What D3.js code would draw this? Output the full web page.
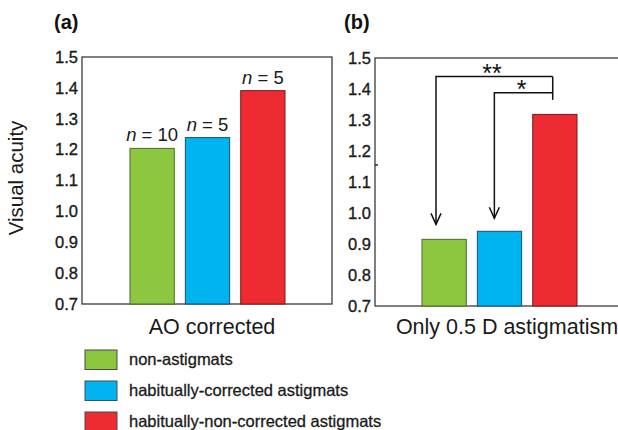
<!DOCTYPE html>
<html>
<head>
<meta charset="utf-8">
<script src="https://cdn.jsdelivr.net/npm/d3@7/dist/d3.min.js"></script>
<style>
  html, body { margin: 0; padding: 0; background: #fff; }
  svg { display: block; font-family: "Liberation Sans", Arial, Helvetica, sans-serif; }
</style>
</head>
<body>
<svg id="chart" width="618" height="430"></svg>
<script>
// Groups, in bar order
const groups = ["non-astigmats", "habitually-corrected astigmats", "habitually-non-corrected astigmats"];
// Visual acuity with adaptive-optics correction
const aoCorrected = [1.204, 1.239, 1.391];
// Visual acuity with only 0.5 D astigmatism left
const halfDioptre = [0.915, 0.941, 1.318];
// Subjects per group
const sampleSizes = [10, 5, 5];
// Y tick values
const yTicks = [0.7, 0.8, 0.9, 1.0, 1.1, 1.2, 1.3, 1.4, 1.5];
// Group colours
const fills = ["#8DC63F", "#00B4EF", "#EE2B31"];
const strokes = ["#4d6b2a", "#1d4f6b", "#7a1a1c"];

const svg = d3.select("#chart");
const ink = "#2a2a2a";
const textInk = "#1a1a1a";

// slightly heavier text strokes
function heavy(sel, w) {
  sel.attr("stroke", textInk).attr("stroke-width", w).attr("paint-order", "stroke");
}

function panel(cfg) {
  const g = svg.append("g");
  const y = d3.scaleLinear().domain([0.7, 1.5]).range([cfg.bottom, cfg.top]);
  const x = d3.scaleBand().domain(groups).range(cfg.barRange).paddingInner(0.2).paddingOuter(0);

  // frame
  g.append("rect")
    .attr("x", cfg.left).attr("y", cfg.top)
    .attr("width", cfg.width).attr("height", cfg.bottom - cfg.top)
    .attr("fill", "none").attr("stroke", ink).attr("stroke-width", 1.2);

  // y axis labels
  const ax = g.append("g")
    .attr("transform", `translate(${cfg.left - cfg.labelGap},0)`)
    .call(d3.axisLeft(y).tickValues(yTicks).tickFormat(d3.format(".1f")).tickSize(0).tickPadding(0));
  ax.select(".domain").remove();
  ax.selectAll("text")
    .attr("font-size", 16.5).attr("fill", textInk)
    .attr("font-family", "'Liberation Sans', Arial, sans-serif")
    .call(heavy, 0.35);

  // bars
  g.selectAll("rect.bar").data(cfg.values).enter().append("rect")
    .attr("class", "bar")
    .attr("x", (d, i) => x(groups[i]))
    .attr("y", d => y(d))
    .attr("width", x.bandwidth())
    .attr("height", d => y(0.7) - y(d))
    .attr("fill", (d, i) => fills[i])
    .attr("stroke", (d, i) => strokes[i])
    .attr("stroke-width", 1);

  // category label
  g.append("text")
    .attr("x", cfg.captionX).attr("y", 334)
    .attr("text-anchor", "middle")
    .attr("font-size", 21.5).attr("fill", textInk)
    .text(cfg.caption);

  // panel letter
  g.append("text")
    .attr("x", cfg.letterX).attr("y", 29)
    .attr("font-size", 20).attr("font-weight", "bold").attr("fill", "#111")
    .text(cfg.letter);

  return { g, x, y };
}

// (a) AO corrected
const a = panel({
  left: 82, width: 250, top: 57, bottom: 304, labelGap: 4,
  barRange: [130, 285], values: aoCorrected,
  caption: "AO corrected", captionX: 212, letter: "(a)", letterX: 54
});

// sample size labels above the bars
a.g.selectAll("text.n").data(aoCorrected).enter().append("text")
  .attr("class", "n")
  .attr("x", (d, i) => a.x(groups[i]) + a.x.bandwidth() / 2)
  .attr("y", d => a.y(d) - 7)
  .attr("text-anchor", "middle")
  .attr("font-size", 18.5).attr("fill", textInk)
  .each(function (d, i) {
    const t = d3.select(this);
    t.append("tspan").attr("font-style", "italic").text("n");
    t.append("tspan").text(" = " + sampleSizes[i]);
  });

// (b) only 0.5 D astigmatism
const b = panel({
  left: 375, width: 250, top: 58, bottom: 306, labelGap: 4,
  barRange: [422, 577], values: halfDioptre,
  caption: "Only 0.5 D astigmatism", captionX: 507, letter: "(b)", letterX: 344
});

// small stray tick on the left frame
b.g.append("line")
  .attr("x1", 375).attr("x2", 378)
  .attr("y1", b.y(1.155)).attr("y2", b.y(1.155))
  .attr("stroke", ink).attr("stroke-width", 1.5);

// significance brackets: red bar vs green (**), red bar vs blue (*)
const redX = b.x(groups[2]) + 20;
const brackets = [
  { from: 0, offset: 14, level: 1.44, tipGap: 15, mark: "**", markX: 492 },
  { from: 1, offset: 17, level: 1.388, tipGap: 13, mark: "*", markX: 521.5 }
];
brackets.forEach(br => {
  const xs = b.x(groups[br.from]) + br.offset;
  const yl = b.y(br.level);
  const tip = b.y(halfDioptre[br.from]) - br.tipGap;
  b.g.append("path")
    .attr("d", `M${redX},${yl}H${xs}V${tip}`)
    .attr("fill", "none").attr("stroke", "#111").attr("stroke-width", 1.5);
  b.g.append("path")
    .attr("d", `M${xs - 5},${tip - 11}L${xs},${tip}L${xs + 5},${tip - 11}`)
    .attr("fill", "none").attr("stroke", "#111").attr("stroke-width", 1.5);
  b.g.append("text")
    .attr("x", br.markX)
    .attr("y", yl + 5)
    .attr("text-anchor", "middle")
    .attr("font-size", 25).attr("fill", "#111")
    .text(br.mark);
});
b.g.append("line")
  .attr("x1", redX).attr("x2", redX)
  .attr("y1", b.y(1.44)).attr("y2", b.y(1.365))
  .attr("stroke", "#111").attr("stroke-width", 1.5);

// y axis title
svg.append("text")
  .attr("transform", "translate(23,178) rotate(-90)")
  .attr("text-anchor", "middle")
  .attr("font-size", 20.5).attr("fill", textInk)
  .text("Visual acuity");

// legend
const legend = svg.append("g");
const rowY = d3.scaleBand().domain(groups).range([350, 431]).paddingInner(0.387);
groups.forEach((name, i) => {
  legend.append("rect")
    .attr("x", 85).attr("y", rowY(name))
    .attr("width", 32).attr("height", 19.5)
    .attr("fill", fills[i]).attr("stroke", "#4a4a4a").attr("stroke-width", 1);
  legend.append("text")
    .attr("x", 129).attr("y", rowY(name) + 15)
    .attr("font-size", 16.5).attr("fill", textInk)
    .call(heavy, 0.3)
    .text(name);
});
</script>
</body>
</html>
